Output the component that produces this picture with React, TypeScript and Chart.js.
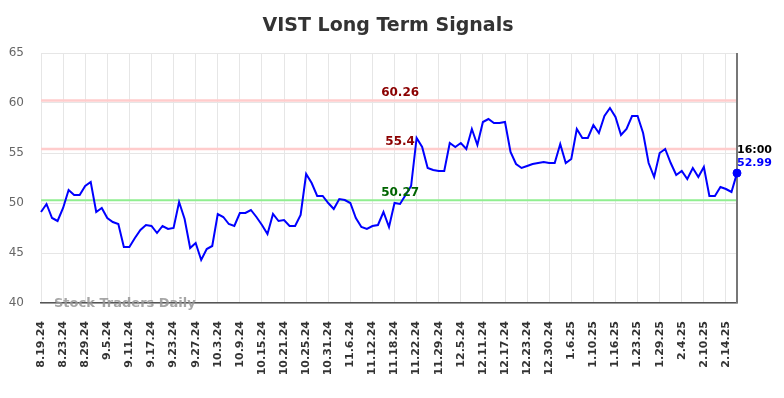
import { useEffect, useRef } from "react";
import { Chart, registerables } from "chart.js";

Chart.register(...registerables);

const title = "VIST Long Term Signals";
const watermark = "Stock Traders Daily";
const lastTimeLabel = "16:00";

const dates = [
  "8.19.24", "8.20.24", "8.21.24", "8.22.24", "8.23.24",
  "8.26.24", "8.27.24", "8.28.24", "8.29.24",
  "8.30.24", "9.3.24", "9.4.24", "9.5.24",
  "9.6.24", "9.9.24", "9.10.24", "9.11.24",
  "9.12.24", "9.13.24", "9.16.24", "9.17.24",
  "9.18.24", "9.19.24", "9.20.24", "9.23.24",
  "9.24.24", "9.25.24", "9.26.24", "9.27.24",
  "9.30.24", "10.1.24", "10.2.24", "10.3.24",
  "10.4.24", "10.7.24", "10.8.24", "10.9.24",
  "10.10.24", "10.11.24", "10.14.24", "10.15.24",
  "10.16.24", "10.17.24", "10.18.24", "10.21.24",
  "10.22.24", "10.23.24", "10.24.24", "10.25.24",
  "10.28.24", "10.29.24", "10.30.24", "10.31.24",
  "11.1.24", "11.4.24", "11.5.24", "11.6.24",
  "11.7.24", "11.8.24", "11.11.24", "11.12.24",
  "11.13.24", "11.14.24", "11.15.24", "11.18.24",
  "11.19.24", "11.20.24", "11.21.24", "11.22.24",
  "11.25.24", "11.26.24", "11.27.24", "11.29.24",
  "12.2.24", "12.3.24", "12.4.24", "12.5.24",
  "12.6.24", "12.9.24", "12.10.24", "12.11.24",
  "12.12.24", "12.13.24", "12.16.24", "12.17.24",
  "12.18.24", "12.19.24", "12.20.24", "12.23.24",
  "12.24.24", "12.26.24", "12.27.24", "12.30.24",
  "12.31.24", "1.2.25", "1.3.25", "1.6.25",
  "1.7.25", "1.8.25", "1.9.25", "1.10.25",
  "1.13.25", "1.14.25", "1.15.25", "1.16.25",
  "1.17.25", "1.21.25", "1.22.25", "1.23.25",
  "1.24.25", "1.27.25", "1.28.25", "1.29.25",
  "1.30.25", "1.31.25", "2.3.25", "2.4.25",
  "2.5.25", "2.6.25", "2.7.25", "2.10.25",
  "2.11.25", "2.12.25", "2.13.25", "2.14.25",
  "2.18.25", "2.19.25",
];

const prices = [
  49.1, 49.9, 48.5, 48.2, 49.5,
  51.3, 50.8, 50.8, 51.7,
  52.1, 49.1, 49.5, 48.5,
  48.1, 47.9, 45.6, 45.6,
  46.5, 47.3, 47.8, 47.7,
  47.0, 47.7, 47.4, 47.5,
  50.1, 48.4, 45.5, 46.0,
  44.3, 45.4, 45.7, 48.9,
  48.6, 47.9, 47.7, 49.0,
  49.0, 49.3, 48.6, 47.8,
  46.9, 48.9, 48.2, 48.3,
  47.7, 47.7, 48.8, 52.9,
  52.0, 50.7, 50.7, 50.0,
  49.4, 50.4, 50.3, 50.0,
  48.5, 47.6, 47.4, 47.7,
  47.8, 49.1, 47.6, 50.0,
  49.9, 50.8, 51.7, 56.5,
  55.6, 53.5, 53.3, 53.2,
  53.2, 56.0, 55.6, 56.0,
  55.4, 57.4, 55.8, 58.1,
  58.4, 58.0, 58.0, 58.1,
  55.1, 53.9, 53.5, 53.7,
  53.9, 54.0, 54.1, 54.0,
  54.0, 55.9, 54.0, 54.4,
  57.4, 56.5, 56.5, 57.8,
  57.0, 58.7, 59.5, 58.6,
  56.8, 57.4, 58.7, 58.7,
  57.0, 54.0, 52.6, 55.0,
  55.4, 54.0, 52.8, 53.2,
  52.4, 53.5, 52.6, 53.6,
  50.7, 50.7, 51.6, 51.4,
  51.1, 52.99,
];

const resistanceLevels = [60.26, 55.4];
const supportLevels = [50.27];
const yMin = 40;
const yMax = 65;
const yStep = 5;
const tickEvery = 4;

export default function App() {
  const ref = useRef<HTMLCanvasElement>(null);

  useEffect(() => {
    if (!ref.current) return;
    const FONT = "'DejaVu Sans', sans-serif";

    const overlay = {
      id: "overlay",
      beforeDatasetsDraw(chart: any) {
        const { ctx, chartArea } = chart;
        const y = chart.scales.y;
        ctx.save();
        const drawLevel = (v: number, color: string, w: number) => {
          const py = y.getPixelForValue(v);
          ctx.strokeStyle = color;
          ctx.lineWidth = w;
          ctx.beginPath();
          ctx.moveTo(chartArea.left, py);
          ctx.lineTo(chartArea.right, py);
          ctx.stroke();
        };
        resistanceLevels.forEach((v) => drawLevel(v, "#ffcccc", 2.5));
        supportLevels.forEach((v) => drawLevel(v, "#90ee90", 2));

        // right border
        ctx.strokeStyle = "#777";
        ctx.lineWidth = 2;
        ctx.beginPath();
        ctx.moveTo(chartArea.right, chartArea.top);
        ctx.lineTo(chartArea.right, chartArea.bottom);
        ctx.stroke();
        ctx.restore();
      },
      afterDatasetsDraw(chart: any) {
        const { ctx, chartArea } = chart;
        const y = chart.scales.y;
        ctx.save();

        // level labels
        const cx = chartArea.left + (chartArea.right - chartArea.left) * 0.516;
        ctx.font = `bold 12px ${FONT}`;
        ctx.textAlign = "center";
        ctx.textBaseline = "alphabetic";
        resistanceLevels.forEach((v) => {
          ctx.fillStyle = "#8b0000";
          ctx.fillText(String(v), cx, y.getPixelForValue(v) - 4);
        });
        supportLevels.forEach((v) => {
          ctx.fillStyle = "#006400";
          ctx.fillText(String(v), cx, y.getPixelForValue(v) - 4);
        });

        // last value labels
        const last = prices[prices.length - 1];
        const ly = y.getPixelForValue(last);
        ctx.textAlign = "left";
        ctx.font = `bold 11px ${FONT}`;
        ctx.fillStyle = "#000";
        ctx.fillText(lastTimeLabel, chartArea.right, ly - 20);
        ctx.fillStyle = "#0000ff";
        ctx.fillText(last.toFixed(2), chartArea.right, ly - 7);

        // watermark
        ctx.font = `bold 13px ${FONT}`;
        ctx.fillStyle = "rgba(150,150,150,0.85)";
        ctx.textAlign = "left";
        ctx.fillText(watermark, chartArea.left + 13, chartArea.bottom + 4);

        // title
        ctx.font = `bold 19px ${FONT}`;
        ctx.fillStyle = "#333";
        ctx.textAlign = "center";
        ctx.textBaseline = "middle";
        ctx.fillText(title, 388, 26);
        ctx.restore();
      },
    };

    const chart = new Chart(ref.current, {
      type: "line",
      data: {
        labels: dates,
        datasets: [
          {
            data: prices,
            borderColor: "#0000ff",
            backgroundColor: "#0000ff",
            borderWidth: 2,
            tension: 0,
            pointRadius: (c: any) => (c.dataIndex === prices.length - 1 ? 4 : 0),
            pointHoverRadius: 0,
            pointBackgroundColor: "#0000ff",
            pointBorderColor: "#0000ff",
            pointBorderWidth: 1,
          },
        ],
      },
      options: {
        responsive: false,
        animation: false,
        events: [],
        layout: { padding: { top: 53, right: 47, left: 0, bottom: 0 } },
        plugins: {
          legend: { display: false },
          title: { display: false },
          tooltip: { enabled: false },
        },
        scales: {
          x: {
            type: "category",
            offset: false,
            afterFit: (s: any) => {
              s.height = 95;
            },
            grid: { color: "#e6e6e6", drawTicks: false, lineWidth: 1 },
            border: { display: true, color: "#555", width: 1.5 },
            ticks: {
              autoSkip: false,
              maxRotation: 90,
              minRotation: 90,
              padding: 18,
              color: "#333",
              font: { family: FONT, size: 11, weight: "bold" },
              callback: function (this: any, value: any, index: number) {
                return index % tickEvery === 0 ? dates[index] : null;
              },
            },
          },
          y: {
            min: yMin,
            max: yMax,
            afterFit: (s: any) => {
              s.width = 41;
            },
            grid: { color: "#e6e6e6", drawTicks: false, lineWidth: 1 },
            border: { display: false },
            ticks: {
              stepSize: yStep,
              padding: 17,
              color: "#666",
              font: { family: FONT, size: 12 },
            },
          },
        },
      },
      plugins: [overlay],
    } as any);

    return () => chart.destroy();
  }, []);

  return (
    <div style={{ position: "fixed", left: 0, top: 0, width: 784, height: 398, background: "#fff" }}>
      <canvas ref={ref} width={784} height={398} style={{ display: "block" }} />
    </div>
  );
}
